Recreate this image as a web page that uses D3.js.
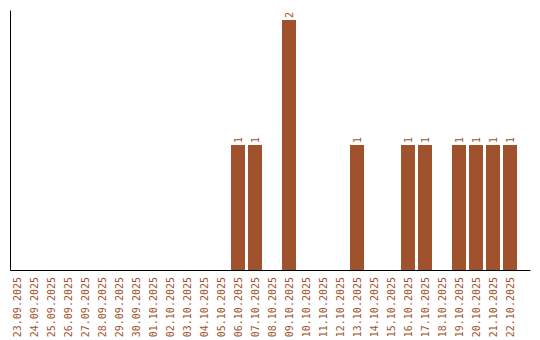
<!DOCTYPE html>
<html><head><meta charset="utf-8">
<script src="https://cdn.jsdelivr.net/npm/d3@7"></script>
<style>
html,body{margin:0;padding:0;background:#fff;}
svg{display:block;}
text{font-family:"DejaVu Sans Mono",monospace;font-size:10px;fill:#a0522d;}
</style></head>
<body>
<svg id="chart" width="540" height="340"></svg>
<script>
const dates = ["23.09.2025","24.09.2025","25.09.2025","26.09.2025","27.09.2025","28.09.2025","29.09.2025","30.09.2025","01.10.2025","02.10.2025","03.10.2025","04.10.2025","05.10.2025","06.10.2025","07.10.2025","08.10.2025","09.10.2025","10.10.2025","11.10.2025","12.10.2025","13.10.2025","14.10.2025","15.10.2025","16.10.2025","17.10.2025","18.10.2025","19.10.2025","20.10.2025","21.10.2025","22.10.2025"];
const counts = [0,0,0,0,0,0,0,0,0,0,0,0,0,1,1,0,2,0,0,0,1,0,0,1,1,0,1,1,1,1];

const svg = d3.select("#chart");
const W = 540, mLeft = 10, mTop = 10, baseY = 270;
const color = "#a0522d";

const x = d3.scaleBand().domain(dates).range([mLeft, 517]).paddingInner(3/17).paddingOuter(0);
const y = d3.scaleLinear().domain([0, d3.max(counts) * 1.04]).range([baseY, mTop]);
const xLine = d3.scaleLinear().range([mLeft, W - 10]);

const data = dates.map((d, i) => ({date: d, value: counts[i]}));

svg.selectAll("rect.bar").data(data.filter(d => d.value > 0)).join("rect")
  .attr("class", "bar")
  .attr("x", d => x(d.date))
  .attr("y", d => y(d.value))
  .attr("width", x.bandwidth())
  .attr("height", d => y(0) - y(d.value))
  .attr("fill", color);

svg.selectAll("text.val").data(data.filter(d => d.value > 0)).join("text")
  .attr("class", "val")
  .attr("transform", d => `translate(${x(d.date) + x.bandwidth() / 2},${y(d.value) - 2}) rotate(-90)`)
  .attr("dy", "0.38em")
  .attr("text-anchor", "start")
  .text(d => d.value);

// y axis line
const gy = svg.append("g").attr("transform", `translate(${mLeft},0)`)
  .call(d3.axisLeft(y).tickValues([]).tickSizeOuter(0));
gy.select(".domain").attr("stroke", "#000");

// x axis line
const gxl = svg.append("g").attr("transform", `translate(0,${baseY})`)
  .call(d3.axisBottom(xLine).tickValues([]).tickSizeOuter(0));
gxl.select(".domain").attr("stroke", "#000");

// x labels
const gx = svg.append("g").attr("transform", `translate(0,${baseY})`)
  .call(d3.axisBottom(x).tickSize(0).tickPadding(0));
gx.select(".domain").remove();
gx.selectAll(".tick text")
  .attr("font-family", "DejaVu Sans Mono, monospace")
  .attr("font-size", 10)
  .attr("fill", color)
  .attr("text-anchor", "end")
  .attr("y", 0).attr("x", 0)
  .attr("dy", "0.38em")
  .attr("transform", "translate(0,7) rotate(-90)");
</script>
</body></html>
